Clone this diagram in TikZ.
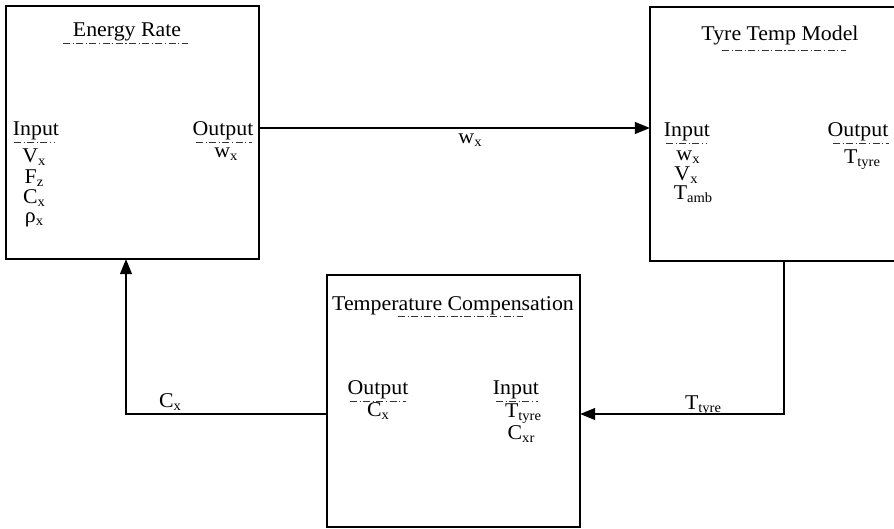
\documentclass[tikz,border=0pt]{standalone}
\usepackage{fontspec}
\setmainfont[FakeStretch=1.04]{Liberation Serif}
\usetikzlibrary{arrows.meta}
\newcommand\sbs[1]{\raisebox{-3pt}{\fontsize{14}{14}\selectfont #1}}
\tikzset{
  blockbox/.style={draw=black, line width=1.4pt, inner sep=0pt},
  lbl/.style={inner sep=0pt, font=\fontsize{21}{23}\selectfont},
  uline/.style={draw=black!80, line width=1pt, dash pattern=on 7pt off 2.5pt on 1.2pt off 2.5pt},
  conn/.style={draw=black, line width=1.2pt},
  arr/.style={conn, -{Triangle[length=15pt,width=12pt]}},
}
\begin{document}
\begin{tikzpicture}[x=1pt,y=-1pt]
\useasboundingbox (0,0) rectangle (894,528);
% boxes
\draw[blockbox] (6,6) rectangle (259,259);
\node[minimum width=253pt, minimum height=253pt, inner sep=0pt] (er) at (132.5,132.5) {};
\draw[blockbox] (650,7) rectangle (897,261);
\node[minimum width=247pt, minimum height=254pt, inner sep=0pt] (ttm) at (773.5,134) {};
\draw[blockbox] (327,275) rectangle (580,527);
\node[minimum width=253pt, minimum height=252pt, inner sep=0pt] (tc) at (453.5,401) {};

% Energy Rate box texts
\node[lbl, anchor=base] (ert) at (127,36) {Energy Rate};
\draw[uline] (63,43) -- (188,43);
\node[lbl, anchor=base] (eri) at (36,135) {Input};
\draw[uline] (14,142) -- (55,142);
\node[lbl, anchor=base] (erv) at (34,162) {V\sbs{x}};
\node[lbl, anchor=base] (erf) at (34,183) {F\sbs{z}};
\node[lbl, anchor=base] (erc) at (34,203) {C\sbs{x}};
\node[lbl, anchor=base] (err) at (34,222) {ρ\sbs{x}};
\node[lbl, anchor=base] (ero) at (223,135) {Output};
\draw[uline] (196,142) -- (252,142);
\node[lbl, anchor=base] (erw) at (226,157) {w\sbs{x}};

% Tyre Temp Model texts
\node[lbl, anchor=base] (ttt) at (780,40) {Tyre Temp Model};
\draw[uline] (722,50) -- (846,50);
\node[lbl, anchor=base] (tti) at (687,136) {Input};
\draw[uline] (666,143) -- (706,143);
\node[lbl, anchor=base] (ttw) at (688,160) {w\sbs{x}};
\node[lbl, anchor=base] (ttv) at (686,180) {V\sbs{x}};
\node[lbl, anchor=base] (tta) at (693,199) {T\sbs{amb}};
\node[lbl, anchor=base] (tto) at (858,136) {Output};
\draw[uline] (833,143) -- (889,143);
\node[lbl, anchor=base] (ttty) at (862,163) {T\sbs{tyre}};

% Temperature Compensation texts
\node[lbl, anchor=base] (tct) at (453,310) {Temperature Compensation};
\draw[uline] (398,316) -- (523,316);
\node[lbl, anchor=base] (tco) at (378,394) {Output};
\draw[uline] (350,401) -- (406,401);
\node[lbl, anchor=base] (tcc) at (378,416) {C\sbs{x}};
\node[lbl, anchor=base] (tci) at (516,394) {Input};
\draw[uline] (496,401) -- (538,401);
\node[lbl, anchor=base] (tcty) at (523,417) {T\sbs{tyre}};
\node[lbl, anchor=base] (tccx) at (521,439) {C\sbs{xr}};

% connectors
\coordinate (c1) at (784,414);
\coordinate (c2) at (126,414);
\draw[arr] (er.east |- 0,128) -- (ttm.west |- 0,128);
\draw[arr] (ttm.south -| c1) -- (c1) -- (tc.east |- c1);
\draw[arr] (tc.west |- c2) -- (c2) -- (er.south -| c2);

% connector labels
\node[lbl, anchor=base] (lw) at (470,143) {w\sbs{x}};
\node[lbl, anchor=base] (lt) at (703,409) {T\sbs{tyre}};
\node[lbl, anchor=base] (lc) at (170,407) {C\sbs{x}};
\end{tikzpicture}
\end{document}
